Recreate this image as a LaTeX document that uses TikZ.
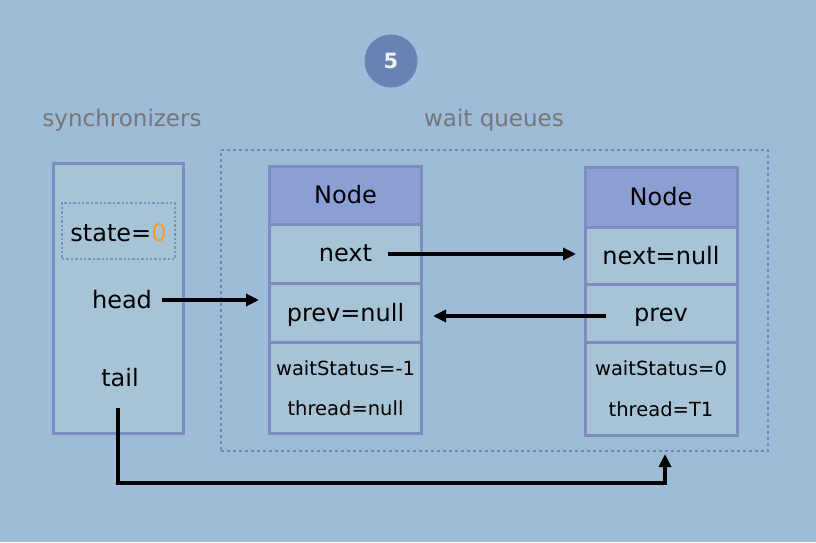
\documentclass[tikz,border=0pt]{standalone}
\usepackage{fontspec}
\setmainfont{DejaVu Sans}
\usetikzlibrary{arrows.meta}
\definecolor{bgc}{HTML}{9EBBD7}
\definecolor{cellc}{HTML}{A7C4D6}
\definecolor{bordc}{HTML}{7D8DC0}
\definecolor{headc}{HTML}{8C9FD5}
\definecolor{circc}{HTML}{6783B3}
\definecolor{grayt}{HTML}{767676}
\definecolor{dashc}{HTML}{6F86BB}
\definecolor{orng}{HTML}{F39C2B}
\tikzset{
  cell/.style={draw=bordc,line width=3pt,fill=cellc,inner sep=0pt,minimum width=152pt},
  hdr/.style={cell,fill=headc},
  big/.style={font=\fontsize{24}{26}\selectfont},
  small/.style={font=\fontsize{19.5}{22}\selectfont},
  ptr/.style={line width=3.2pt,-{Triangle[length=13pt,width=12pt]}},
  title/.style={text=grayt,font=\fontsize{23}{26}\selectfont}
}
\begin{document}
\begin{tikzpicture}[x=1pt,y=-1pt]
\useasboundingbox[fill=bgc] (0,0) rectangle (816,542);
% step badge
\node[circle,fill=circc,minimum size=53pt,inner sep=0pt,text=white!90!gray,font=\bfseries\fontsize{21}{24}\selectfont] (badge) at (391,61) {5};
% titles
\node[title] (synct) at (122,120) {synchronizers};
\node[title] (waitt) at (494,120) {wait queues};
% wait queue frame
\node[draw=dashc,dashed,line width=1.5pt,minimum width=547pt,minimum height=301pt,inner sep=0pt] (frame) at (494.5,300.5) {};
% synchronizer
\node[cell,minimum width=130pt,minimum height=270pt] (sync) at (118,298) {};
\node[draw=bordc,dotted,line width=2.4pt,minimum width=113pt,minimum height=56pt,inner sep=0pt] (state) at (118.5,231) {};
\node[big] (statet) at (118.5,233) {state=\textcolor{orng}{0}};
\node[big] (head) at (122,300) {head};
\node[big] (tail) at (120,378) {tail};
% node 1
\node[hdr,minimum height=58pt,big] (n1h) at (345.5,195) {Node};
\node[cell,minimum height=59pt,big] (n1n) at (345.5,253.5) {next};
\node[cell,minimum height=59pt] (n1p) at (345.5,312.5) {};
\node[big] (n1pt) at (345.5,314.5) {prev=null};
\node[cell,minimum height=91pt] (n1b) at (345.5,387.5) {};
\node[small] (n1w) at (345.5,368) {waitStatus=-1};
\node[small] (n1t) at (345.5,408) {thread=null};
% node 2
\node[hdr,minimum height=60pt,big] (n2h) at (661,197) {Node};
\node[cell,minimum height=57pt,big] (n2n) at (661,255.5) {next=null};
\node[cell,minimum height=58pt] (n2p) at (661,313) {};
\node[big] (n2pt) at (661,317) {prev};
\node[cell,minimum height=93pt] (n2b) at (661,388.5) {};
\node[small] (n2w) at (661,368) {waitStatus=0};
\node[small] (n2t) at (661,409) {thread=T1};
% connectors
\coordinate (hs) at (162,300);
\coordinate (he) at (259,300);
\draw[ptr] (hs) -- (he);
\coordinate (ns) at (388,254);
\coordinate (ne) at (576,254);
\draw[ptr] (ns) -- (ne);
\coordinate (ps) at (606,316);
\coordinate (pe) at (433,316);
\draw[ptr] (ps) -- (pe);
\coordinate (ts) at (118,408);
\coordinate (tc) at (118,483);
\coordinate (te) at (665,454);
\draw[ptr] (ts) -- (tc) -| (te);
\end{tikzpicture}
\end{document}
